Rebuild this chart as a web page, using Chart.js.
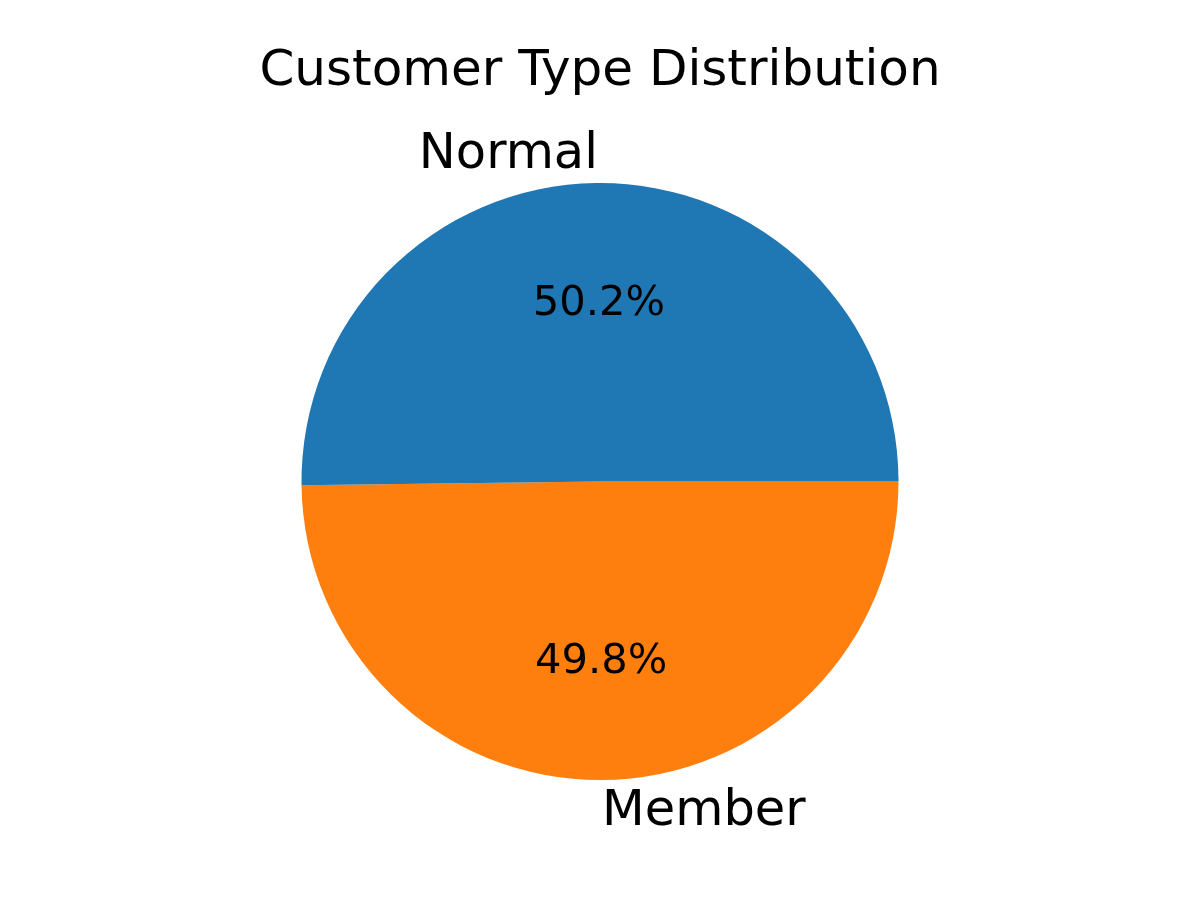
<!DOCTYPE html>
<html>
<head>
<meta charset="utf-8">
<script src="https://cdn.jsdelivr.net/npm/chart.js@4/dist/chart.umd.min.js"></script>
<style>
  body { margin: 0; background: #fff; }
  canvas { display: block; }
</style>
</head>
<body>
<canvas id="pieChart" width="1200" height="900"></canvas>
<script>
const chartTitle = "Customer Type Distribution";
const categories = ["Normal", "Member"];
const shares = [50.2, 49.8];
const sliceColors = ["#1f77b4", "#ff7f0e"];

// matplotlib draws counterclockwise from 3 o'clock, Chart.js clockwise,
// so feed the slices in reverse and start at 90deg
const order = categories.map((_, i) => i).reverse();

//Labels + percentages drawn like matplotlib autopct
const pieText = {
  id: "pieText",
  afterDraw(chart) {
    const ctx = chart.ctx;
    const meta = chart.getDatasetMeta(0);
    const total = shares.reduce((a, b) => a + b, 0);
    ctx.save();
    ctx.fillStyle = "#000";
    ctx.textBaseline = "alphabetic";

    ctx.font = '50px "DejaVu Sans"';
    ctx.textAlign = "center";
    ctx.fillText(chartTitle, (chart.chartArea.left + chart.chartArea.right) / 2, 85);

    meta.data.forEach((arc, j) => {
      const i = order[j];
      const p = arc.getProps(["x", "y", "startAngle", "endAngle", "outerRadius"], true);
      const mid = (p.startAngle + p.endAngle) / 2;
      const cx = Math.cos(mid), cy = Math.sin(mid);

      ctx.font = '49.5px "DejaVu Sans"';
      ctx.textAlign = cx < 0 ? "right" : "left";
      ctx.fillText(categories[i], p.x + cx * p.outerRadius * 1.1, p.y + cy * p.outerRadius * 1.1 + 0.3 * 49.5);

      ctx.font = '41.6px "DejaVu Sans"';
      ctx.textAlign = "center";
      const pct = (shares[i] / total * 100).toFixed(1) + "%";
      ctx.fillText(pct, p.x + cx * p.outerRadius * 0.6, p.y + cy * p.outerRadius * 0.6 + 0.3 * 41.6);
    });
    ctx.restore();
  },
};

const ctx = document.getElementById("pieChart").getContext("2d");
const pieChart = new Chart(ctx, {
  type: "pie",
  data: {
    labels: order.map((i) => categories[i]),
    datasets: [
      {
        data: order.map((i) => shares[i]),
        backgroundColor: order.map((i) => sliceColors[i]),
        borderWidth: 0,
        hoverOffset: 0,
      },
    ],
  },
  options: {
    responsive: false,
    animation: false,
    rotation: 90,
    layout: {
      padding: { top: 183, bottom: 120, left: 0, right: 0 },
    },
    plugins: {
      legend: { display: false },
      tooltip: { enabled: false },
      title: { display: false },
    },
  },
  plugins: [pieText],
});
</script>
</body>
</html>
